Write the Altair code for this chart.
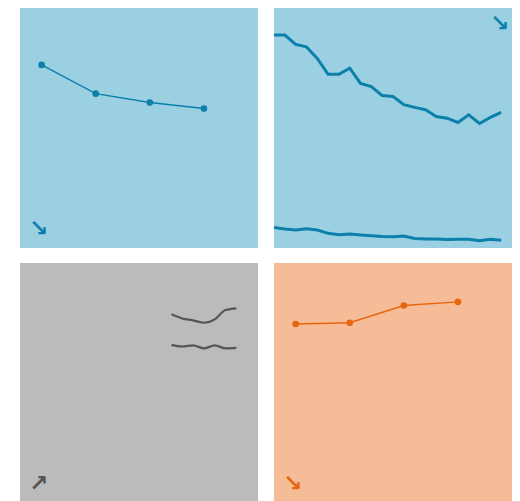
import altair as alt
import pandas as pd

# ---- data ----
p1_x = [0, 1, 2, 3]
p1_y = [76.3, 64.3, 60.6, 58.1]

p2_x = list(range(22))
p2_upper = [88.7, 88.7, 84.8, 83.8, 79.0, 72.4, 72.4, 74.9, 68.6, 67.3, 63.5,
            63.1, 59.7, 58.6, 57.6, 54.8, 54.1, 52.3, 55.5, 51.9, 54.4, 56.5]
p2_lower = [8.6, 7.9, 7.5, 8.0, 7.5, 6.1, 5.5, 5.8, 5.4, 5.1, 4.8,
            4.7, 5.0, 4.0, 3.7, 3.7, 3.5, 3.6, 3.6, 3.0, 3.6, 3.2]

p3_x = [14, 15, 16, 17, 18, 19, 20]
p3_upper = [78.6, 76.9, 76.1, 75.1, 76.5, 80.4, 81.1]
p3_lower = [65.9, 65.2, 65.7, 64.4, 65.7, 64.4, 64.6]

p4_x = [0, 1, 2, 3]
p4_y = [74.6, 75.1, 82.3, 83.8]

arrows = ["↘", "↘", "↗", "↘"]

BLUE_BG = "#9bd0e2"
BLUE = "#0a80ab"
GRAY_BG = "#bbbbbb"
GRAY = "#555555"
ORANGE_BG = "#f5bc97"
ORANGE = "#e8650f"

W = 238
H_TOP = 240
H_BOT = 240
Y_SCALE = alt.Scale(domain=[0, 100], nice=False, zero=False)
X4 = alt.Scale(domain=[-0.4, 4.0], nice=False, zero=False)
X22 = alt.Scale(domain=[0, 22], nice=False, zero=False)


def arrow(sym, color, x, y):
    return alt.Chart(pd.DataFrame({"t": [sym]})).mark_text(
        fontSize=23, color=color, font="DejaVu Sans", fontWeight="bold"
    ).encode(text="t:N", x=alt.value(x), y=alt.value(y))


def panel(layers, bg, h):
    return alt.layer(*layers).properties(
        width=W, height=h, view=alt.ViewBackground(fill=bg, stroke=None)
    )


# panel 1
d1 = pd.DataFrame({"x": p1_x, "y": p1_y})
b1 = alt.Chart(d1).encode(
    x=alt.X("x:Q", scale=X4, axis=None), y=alt.Y("y:Q", scale=Y_SCALE, axis=None)
)
c1 = panel([
    b1.mark_line(color=BLUE, strokeWidth=1.4),
    b1.mark_circle(color=BLUE, size=44, opacity=1),
    arrow(arrows[0], BLUE, 19, 221),
], BLUE_BG, H_TOP)

# panel 2
d2 = pd.DataFrame({
    "x": p2_x * 2,
    "y": p2_upper + p2_lower,
    "s": ["a"] * len(p2_x) + ["b"] * len(p2_x),
})
c2 = panel([
    alt.Chart(d2).mark_line(color=BLUE, strokeWidth=3, clip=True).encode(
        x=alt.X("x:Q", scale=X22, axis=None),
        y=alt.Y("y:Q", scale=Y_SCALE, axis=None),
        detail="s:N",
    ),
    arrow(arrows[1], BLUE, 226, 16),
], BLUE_BG, H_TOP)

# panel 3
d3 = pd.DataFrame({
    "x": p3_x * 2,
    "y": p3_upper + p3_lower,
    "s": ["a"] * len(p3_x) + ["b"] * len(p3_x),
})
c3 = panel([
    alt.Chart(d3).mark_line(color=GRAY, strokeWidth=2.2, interpolate="monotone").encode(
        x=alt.X("x:Q", scale=X22, axis=None),
        y=alt.Y("y:Q", scale=Y_SCALE, axis=None),
        detail="s:N",
    ),
    arrow(arrows[2], GRAY, 19, 221),
], GRAY_BG, H_BOT)

# panel 4
d4 = pd.DataFrame({"x": p4_x, "y": p4_y})
b4 = alt.Chart(d4).encode(
    x=alt.X("x:Q", scale=X4, axis=None), y=alt.Y("y:Q", scale=Y_SCALE, axis=None)
)
c4 = panel([
    b4.mark_line(color=ORANGE, strokeWidth=1.4),
    b4.mark_circle(color=ORANGE, size=44, opacity=1),
    arrow(arrows[3], ORANGE, 19, 221),
], ORANGE_BG, H_BOT)

chart = alt.vconcat(
    alt.hconcat(c1, c2, spacing=16),
    alt.hconcat(c3, c4, spacing=16),
    spacing=15,
).properties(
    padding={"left": 12, "top": 0, "right": 0, "bottom": 0}
).configure_view(strokeWidth=0)

chart.save("out.html", embed_options={"renderer": "svg", "actions": False})
